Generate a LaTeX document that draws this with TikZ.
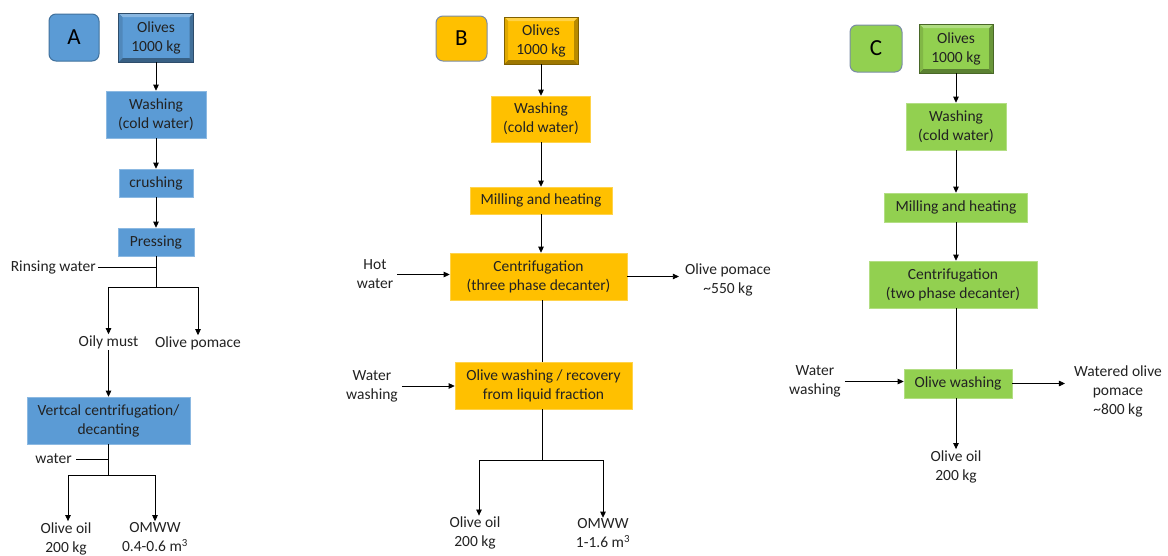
\documentclass[tikz,border=0pt]{standalone}
\usepackage{fontspec}
\setmainfont{Carlito}
\usetikzlibrary{arrows.meta}
\definecolor{Ablue}{HTML}{5B9BD5}
\definecolor{Borange}{HTML}{FFC000}
\definecolor{Cgreen}{HTML}{92D050}
\definecolor{txt}{HTML}{222222}
\definecolor{labA}{HTML}{41719C}
\definecolor{labBC}{HTML}{7A8CA6}
\tikzset{
 proc/.style={rectangle, inner sep=0pt, align=center, text=txt, font=\fontsize{15.5}{19}\selectfont, fill=#1, draw=#1!70!white, line width=0.6pt},
 lbl/.style={rectangle, rounded corners=7pt, inner sep=0pt, text=black, font=\fontsize{23}{26}\selectfont, fill=#1, line width=1pt},
 plain/.style={inner sep=1pt, align=center, text=txt, font=\fontsize{15.5}{19}\selectfont},
 bev/.style={proc=#1, draw=#1!50!black, line width=0.7pt, path picture={
   % bottom edge
   \fill[#1!62!black] (path picture bounding box.south west) -- (path picture bounding box.south east) -- ([shift={(-4pt,4pt)}]path picture bounding box.south east) -- ([shift={(4pt,4pt)}]path picture bounding box.south west) -- cycle;
   % right edge
   \fill[#1!72!black] (path picture bounding box.south east) -- (path picture bounding box.north east) -- ([shift={(-4pt,-4pt)}]path picture bounding box.north east) -- ([shift={(-4pt,4pt)}]path picture bounding box.south east) -- cycle;
   % top edge
   \fill[#1!72!white] (path picture bounding box.north west) -- (path picture bounding box.north east) -- ([shift={(-4pt,-4pt)}]path picture bounding box.north east) -- ([shift={(4pt,-4pt)}]path picture bounding box.north west) -- cycle;
   % left edge
   \fill[#1!88!black] (path picture bounding box.south west) -- (path picture bounding box.north west) -- ([shift={(4pt,-4pt)}]path picture bounding box.north west) -- ([shift={(4pt,4pt)}]path picture bounding box.south west) -- cycle;
 }},
 arr/.style={-{Triangle[length=6pt,width=5.5pt]}, line width=0.8pt, black},
 ln/.style={line width=0.8pt, black},
 sz/.style 2 args={minimum width=#1pt, minimum height=#2pt},
}
\begin{document}
\begin{tikzpicture}[x=1pt,y=-1pt]
\useasboundingbox[fill=white] (0,0) rectangle (1168,555);

% ---------------- A ----------------
\node[lbl=Ablue, draw=labA, sz={50}{47}] (aL) at (74,37.5) {A};
\node[bev=Ablue, sz={75}{49}] (aO) at (156,37.5) {Olives\\1000 kg};
\node[proc=Ablue, sz={100}{47}] (aW) at (156,114.5) {Washing\\(cold water)};
\node[proc=Ablue, sz={74}{28}] (aC) at (156,183) {crushing};
\node[proc=Ablue, sz={76}{28}] (aP) at (156,242) {Pressing};
\node[plain, anchor=east] (aRin) at (97,267) {Rinsing water};
\coordinate (aJ1) at (156,267);
\coordinate (aS1) at (156,287);
\node[plain] (aOily) at (108.5,342) {Oily must};
\node[plain] (aPom) at (198,343) {Olive pomace};
\node[proc=Ablue, sz={163}{47}] (aV) at (108.5,420.5) {Vertcal centrifugation/\\decanting};
\node[plain, anchor=east] (aWat) at (73,459) {water};
\coordinate (aJ2) at (108.5,460);
\coordinate (aS2) at (108.5,475);
\node[plain] (aOil) at (66,538.5) {Olive oil\\200 kg};
\node[plain] (aOm) at (155,537) {OMWW\\0.4-0.6 m\textsuperscript{3}};

\draw[arr] (aO) -- (aW);
\draw[arr] (aW) -- (aC);
\draw[arr] (aC) -- (aP);
\draw[ln] (aP) -- (aS1);
\draw[ln, shorten <=1pt] (aRin.east) -- (aRin.east -| aJ1);
\draw[arr] (aS1) -| (aOily.north);
\draw[arr] (aS1) -| (aPom.north);
\draw[arr] (aOily) -- (aV);
\draw[ln] (aV) -- (aS2);
\draw[ln, shorten <=3pt] (aWat.east) -- (aWat.east -| aJ2);
\draw[arr] (aS2) -| ([xshift=2pt]aOil.north);
\draw[arr] (aS2) -| (aOm.north);

% ---------------- B ----------------
\node[lbl=Borange, draw=labBC, sz={51}{45}] (bL) at (461.5,38.5) {B};
\node[bev=Borange, sz={74}{47}] (bO) at (541,40.5) {Olives\\1000 kg};
\node[proc=Borange, sz={99}{46}] (bW) at (541,119) {Washing\\(cold water)};
\node[proc=Borange, sz={142}{27}] (bM) at (541,200.5) {Milling and heating};
\node[proc=Borange, sz={177}{47}] (bC) at (538.5,276.5) {Centrifugation\\(three phase decanter)};
\node[plain] (bHot) at (375,274.5) {Hot\\water};
\node[plain] (bPom) at (728,279.5) {Olive pomace\\\textasciitilde550 kg};
\node[proc=Borange, sz={177}{47}] (bR) at (543.5,385.5) {Olive washing / recovery\\from liquid fraction};
\node[plain] (bWat) at (372,386) {Water\\washing};
\coordinate (bS) at (542,460);
\node[plain] (bOil) at (475,533) {Olive oil\\200 kg};
\node[plain] (bOm) at (603,533.5) {OMWW\\1-1.6 m\textsuperscript{3}};

\draw[arr] (bO) -- (bW);
\draw[arr] (bW) -- (bM);
\draw[arr] (bM.south) -- (bM.south |- bC.north);
\draw[arr, shorten <=3pt] (bHot.east) -- (bHot.east -| bC.west);
\draw[arr, shorten >=5pt] (bC.east) -- (bC.east -| bPom.west);
\draw[ln] (bS |- bC.south) -- (bS |- bR.north);
\draw[arr, shorten <=3pt] (bWat.east) -- (bWat.east -| bR.west);
\draw[ln] (bS |- bR.south) -- (bS);
\draw[arr] (bS) -| ([xshift=4pt]bOil.north);
\draw[arr] (bS) -| (bOm.north);

% ---------------- C ----------------
\node[lbl=Cgreen, draw=labBC, sz={52}{47}] (cL) at (876,48.5) {C};
\node[bev=Cgreen, sz={74}{49}] (cO) at (956,48.5) {Olives\\1000 kg};
\node[proc=Cgreen, sz={100}{47}] (cW) at (956,126.5) {Washing\\(cold water)};
\node[proc=Cgreen, sz={143}{29}] (cM) at (956,207.5) {Milling and heating};
\node[proc=Cgreen, sz={168}{47}] (cC) at (953,284.5) {Centrifugation\\(two phase decanter)};
\node[proc=Cgreen, sz={108}{29}] (cOW) at (958,383.5) {Olive washing};
\node[plain] (cWat) at (815,381.5) {Water\\washing};
\node[plain] (cPom) at (1118,391.5) {Watered olive\\pomace\\\textasciitilde800 kg};
\node[plain] (cOil) at (956,466.5) {Olive oil\\200 kg};

\draw[arr] (cO) -- (cW);
\draw[arr] (cW) -- (cM);
\draw[arr] (cM.south) -- (cM.south |- cC.north);
\draw[ln] (cM.south |- cC.south) -- (cM.south |- cOW.north);
\draw[arr, shorten <=3pt] (cWat.east) -- (cWat.east -| cOW.west);
\draw[arr, shorten >=8pt] (cOW.east) -- (cOW.east -| cPom.west);
\draw[arr] (cM.south |- cOW.south) -- (cM.south |- cOil.north);
\end{tikzpicture}
\end{document}
